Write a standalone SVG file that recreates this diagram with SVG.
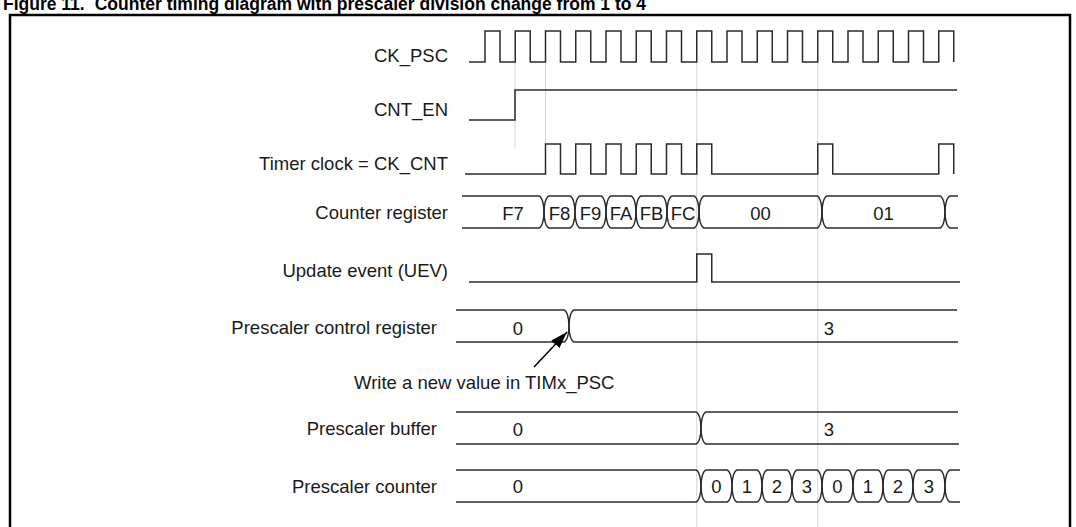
<svg xmlns="http://www.w3.org/2000/svg" width="1076" height="527" viewBox="0 0 1076 527">
<style>
text{font-family:"Liberation Sans",Arial,sans-serif;font-size:18.5px;fill:#1a1a1a}
.lbl{text-anchor:end}
.v{text-anchor:middle}
.title{font-weight:bold;font-size:17.5px;fill:#000}
.w{fill:none;stroke:#2b2b2b;stroke-width:1.5;stroke-linejoin:miter}
.g{stroke:#d4d4d4;stroke-width:1;fill:none}
.frame{fill:none;stroke:#000;stroke-width:2.5}
</style>
<defs>
<marker id="ah" viewBox="0 0 17 11" refX="17" refY="5.5" markerWidth="17" markerHeight="11" markerUnits="userSpaceOnUse" orient="auto"><path d="M0,0 L17,5.5 L0,11 Z" fill="#000"/></marker>
</defs>
<rect width="1076" height="527" fill="#fff"/>
<text class="title" x="3" y="10">Figure 11.<tspan dx="10">Counter timing diagram with prescaler division change from 1 to 4</tspan></text>
<path class="frame" d="M10,530 V15 H1070 V530"/>
<g id="guides">
<path class="g" d="M515,62 V148 M545.5,62 V144 M696.75,62 V527 M817.75,62 V527"/>
</g>
<g id="ck_psc">
<text class="lbl" x="448" y="62">CK_PSC</text>
<path class="w" d="M469,62 H485 V31 H500 V62 H515.25 V31 H530.25 V62 H545.5 V31 H560.5 V62 H575.75 V31 H590.75 V62 H606 V31 H621 V62 H636.25 V31 H651.25 V62 H666.5 V31 H681.5 V62 H696.75 V31 H711.75 V62 H727 V31 H742 V62 H757.25 V31 H772.25 V62 H787.5 V31 H802.5 V62 H817.75 V31 H832.75 V62 H848 V31 H863 V62 H878.25 V31 H893.25 V62 H908.5 V31 H923.5 V62 H938.75 V31 H953.75 V62"/>
</g>
<g id="cnt_en">
<text class="lbl" x="448" y="116">CNT_EN</text>
<path class="w" d="M469,120 H515 V90 H957"/>
</g>
<g id="ck_cnt">
<text class="lbl" x="448" y="170">Timer clock = CK_CNT</text>
<path class="w" d="M465,174 H545.5 V144 H560.5 V174 H575.75 V144 H590.75 V174 H606 V144 H621 V174 H636.25 V144 H651.25 V174 H666.5 V144 H681.5 V174 H696.75 V144 H711.75 V174 H817.75 V144 H832.75 V174 H938.75 V144 H953.75 V174"/>
</g>
<g id="counter_register">
<text class="lbl" x="448" y="219">Counter register</text>
<path class="w" d="M462,196 H539 C542,197 544,204 544,212 C544,220 542,227 539,228 H462"/>
<path class="w" d="M549,196 H570 C573,197 575,204 575,212 C575,220 573,227 570,228 H549 C546,227 544,220 544,212 C544,204 546,197 549,196 Z"/>
<path class="w" d="M580,196 H601 C604,197 606,204 606,212 C606,220 604,227 601,228 H580 C577,227 575,220 575,212 C575,204 577,197 580,196 Z"/>
<path class="w" d="M611,196 H631 C634,197 636,204 636,212 C636,220 634,227 631,228 H611 C608,227 606,220 606,212 C606,204 608,197 611,196 Z"/>
<path class="w" d="M641,196 H662 C665,197 667,204 667,212 C667,220 665,227 662,228 H641 C638,227 636,220 636,212 C636,204 638,197 641,196 Z"/>
<path class="w" d="M672,196 H694 C697,197 699,204 699,212 C699,220 697,227 694,228 H672 C669,227 667,220 667,212 C667,204 669,197 672,196 Z"/>
<path class="w" d="M704,196 H817 C820,197 822,204 822,212 C822,220 820,227 817,228 H704 C701,227 699,220 699,212 C699,204 701,197 704,196 Z"/>
<path class="w" d="M827,196 H940 C943,197 945,204 945,212 C945,220 943,227 940,228 H827 C824,227 822,220 822,212 C822,204 824,197 827,196 Z"/>
<path class="w" d="M958,196 H950 C947,197 945,204 945,212 C945,220 947,227 950,228 H958"/>
<text class="v" x="513" y="220">F7</text>
<text class="v" x="559.5" y="220">F8</text>
<text class="v" x="590.5" y="220">F9</text>
<text class="v" x="621" y="220">FA</text>
<text class="v" x="651.5" y="220">FB</text>
<text class="v" x="683" y="220">FC</text>
<text class="v" x="760.5" y="220">00</text>
<text class="v" x="883.5" y="220">01</text>
</g>
<g id="uev">
<text class="lbl" x="448" y="277">Update event (UEV)</text>
<path class="w" d="M469,282 H696.75 V254 H711.75 V282 H960"/>
</g>
<g id="psc_control">
<text class="lbl" x="437" y="334">Prescaler control register</text>
<path class="w" d="M456,310 H564 C567,311 569,318 569,326 C569,334 567,341 564,342 H456"/>
<path class="w" d="M957,310 H574 C571,311 569,318 569,326 C569,334 571,341 574,342 H958"/>
<text class="v" x="518" y="335">0</text>
<text class="v" x="829" y="335">3</text>
</g>
<g id="write_note">
<text x="354" y="389">Write a new value in TIMx_PSC</text>
</g>
<g id="psc_buffer">
<text class="lbl" x="437" y="435">Prescaler buffer</text>
<path class="w" d="M456,412 H696 C699,413 701,420 701,428 C701,436 699,443 696,444 H456"/>
<path class="w" d="M958,412 H706 C703,413 701,420 701,428 C701,436 703,443 706,444 H959"/>
<text class="v" x="518" y="436">0</text>
<text class="v" x="829" y="436">3</text>
</g>
<g id="psc_counter">
<text class="lbl" x="437" y="493">Prescaler counter</text>
<path class="w" d="M456,470 H696 C699,471 701,478 701,486 C701,494 699,501 696,502 H456"/>
<path class="w" d="M706,470 H727 C730,471 732,478 732,486 C732,494 730,501 727,502 H706 C703,501 701,494 701,486 C701,478 703,471 706,470 Z"/>
<path class="w" d="M737,470 H757 C760,471 762,478 762,486 C762,494 760,501 757,502 H737 C734,501 732,494 732,486 C732,478 734,471 737,470 Z"/>
<path class="w" d="M767,470 H787 C790,471 792,478 792,486 C792,494 790,501 787,502 H767 C764,501 762,494 762,486 C762,478 764,471 767,470 Z"/>
<path class="w" d="M797,470 H817 C820,471 822,478 822,486 C822,494 820,501 817,502 H797 C794,501 792,494 792,486 C792,478 794,471 797,470 Z"/>
<path class="w" d="M827,470 H848 C851,471 853,478 853,486 C853,494 851,501 848,502 H827 C824,501 822,494 822,486 C822,478 824,471 827,470 Z"/>
<path class="w" d="M858,470 H878 C881,471 883,478 883,486 C883,494 881,501 878,502 H858 C855,501 853,494 853,486 C853,478 855,471 858,470 Z"/>
<path class="w" d="M888,470 H908 C911,471 913,478 913,486 C913,494 911,501 908,502 H888 C885,501 883,494 883,486 C883,478 885,471 888,470 Z"/>
<path class="w" d="M918,470 H940 C943,471 945,478 945,486 C945,494 943,501 940,502 H918 C915,501 913,494 913,486 C913,478 915,471 918,470 Z"/>
<path class="w" d="M960,470 H950 C947,471 945,478 945,486 C945,494 947,501 950,502 H960"/>
<text class="v" x="518" y="493">0</text>
<text class="v" x="716.5" y="493">0</text>
<text class="v" x="747" y="493">1</text>
<text class="v" x="777" y="493">2</text>
<text class="v" x="807" y="493">3</text>
<text class="v" x="837.5" y="493">0</text>
<text class="v" x="868" y="493">1</text>
<text class="v" x="898" y="493">2</text>
<text class="v" x="929" y="493">3</text>
</g>
<g id="connectors">
<line x1="534" y1="367" x2="567" y2="332" stroke="#000" stroke-width="1.5" marker-end="url(#ah)"/>
</g>
</svg>
